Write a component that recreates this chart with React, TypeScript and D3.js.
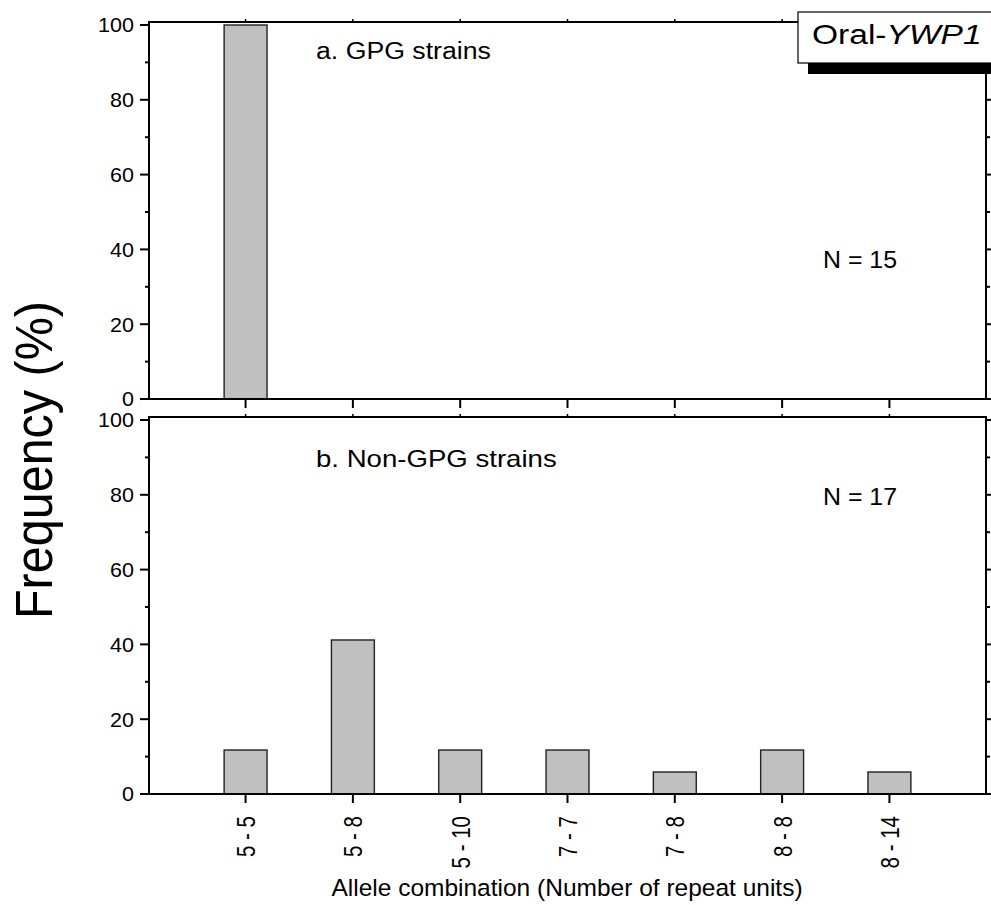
import React from "react";
import * as d3 from "d3";

const categories = ["5 - 5", "5 - 8", "5 - 10", "7 - 7", "7 - 8", "8 - 8", "8 - 14"];
const gpgValues = [100, 0, 0, 0, 0, 0, 0];
const nonGpgValues = [11.76, 41.18, 11.76, 11.76, 5.88, 11.76, 5.88];
const yMajorTicks = [0, 20, 40, 60, 80, 100];
const yMinorTicks = [10, 30, 50, 70, 90];

const W = 991;
const H = 905;
const FONT = "'Liberation Sans', Arial, sans-serif";

const left = 149;
const right = 986;

const x = d3.scaleLinear().domain([0.1, 7.9]).range([left, right]);
const barW = x(0.4) - x(0);

type PanelProps = {
  top: number;
  bottom: number;
  values: number[];
  label: string;
  labelY: number;
  labelScale: number;
  nLabel: string;
  nY: number;
  showCatLabels: boolean;
};

function Panel({ top, bottom, values, label, labelY, labelScale, nLabel, nY, showCatLabels }: PanelProps) {
  const y = d3.scaleLinear().domain([0, 100.8]).range([bottom, top]);
  const catIdx = categories.map((_, i) => i + 1);
  return (
    <g>
      {values.map((v, i) =>
        v > 0 ? (
          <rect
            key={i}
            x={x(i + 1) - barW / 2}
            y={y(v)}
            width={barW}
            height={y(0) - y(v)}
            fill="#c0c0c0"
            stroke="#222"
            strokeWidth={1.4}
          />
        ) : null
      )}
      <rect x={left} y={top} width={right - left} height={bottom - top} fill="none" stroke="#000" strokeWidth={2} />
      {yMajorTicks.map((t) => (
        <g key={"m" + t}>
          <line x1={left - 9} x2={left} y1={y(t)} y2={y(t)} stroke="#000" strokeWidth={2} />
          <line x1={right} x2={right + 9} y1={y(t)} y2={y(t)} stroke="#000" strokeWidth={2} />
          <text
            transform={`translate(${left - 15},${y(t)}) scale(1.05,1)`}
            textAnchor="end"
            dy="0.36em"
            fontSize={20.5}
            fontFamily={FONT}
            fill="#000"
          >
            {t}
          </text>
        </g>
      ))}
      {yMinorTicks.map((t) => (
        <g key={"n" + t}>
          <line x1={left - 4} x2={left} y1={y(t)} y2={y(t)} stroke="#000" strokeWidth={2} />
          <line x1={right} x2={right + 4} y1={y(t)} y2={y(t)} stroke="#000" strokeWidth={2} />
        </g>
      ))}
      {catIdx.map((c) => (
        <g key={"c" + c}>
          <line x1={x(c)} x2={x(c)} y1={bottom} y2={bottom + 9} stroke="#000" strokeWidth={2} />
          <line x1={x(c)} x2={x(c)} y1={top} y2={top - 3} stroke="#000" strokeWidth={1.5} />
          {showCatLabels ? (
            <text
              transform={`translate(${x(c)},${bottom + 22}) scale(1.3,1) rotate(-90)`}
              textAnchor="end"
              dy="0.36em"
              fontSize={20.5}
              fontFamily={FONT}
              fill="#000"
            >
              {categories[c - 1]}
            </text>
          ) : null}
        </g>
      ))}
      <text transform={`translate(316,${labelY}) scale(${labelScale},1)`} fontSize={23} fontFamily={FONT} fill="#000">
        {label}
      </text>
      <text transform={`translate(823,${nY}) scale(1.06,1)`} fontSize={23.5} fontFamily={FONT} fill="#000">
        {nLabel}
      </text>
    </g>
  );
}

export default function App() {
  return (
    <svg
      width={W}
      height={H}
      style={{ position: "absolute", left: 0, top: 0, background: "#fff" }}
      viewBox={`0 0 ${W} ${H}`}
    >
      <rect x={0} y={0} width={W} height={H} fill="#fff" />
      <Panel
        top={22}
        bottom={399}
        values={gpgValues}
        label="a. GPG strains"
        labelY={59}
        labelScale={1.16}
        nLabel="N = 15"
        nY={268}
        showCatLabels={false}
      />
      <Panel
        top={417}
        bottom={794}
        values={nonGpgValues}
        label="b. Non-GPG strains"
        labelY={467}
        labelScale={1.2}
        nLabel="N = 17"
        nY={505}
        showCatLabels={true}
      />
      <rect x={808} y={63} width={200} height={11} fill="#000" />
      <rect x={798} y={12} width={220} height={51} fill="#fff" stroke="#000" strokeWidth={1.2} />
      <text transform="translate(812,44) scale(1.22,1)" fontSize={27.5} fontFamily={FONT} fill="#000">
        Oral-<tspan fontStyle="italic">YWP1</tspan>
      </text>
      <text
        transform="translate(52,460) scale(1.06,1) rotate(-90)"
        textAnchor="middle"
        fontSize={48.5}
        fontFamily={FONT}
        fill="#000"
      >
        Frequency (%)
      </text>
      <text x={567} y={896} textAnchor="middle" fontSize={24.5} fontFamily={FONT} fill="#000">
        Allele combination (Number of repeat units)
      </text>
    </svg>
  );
}
